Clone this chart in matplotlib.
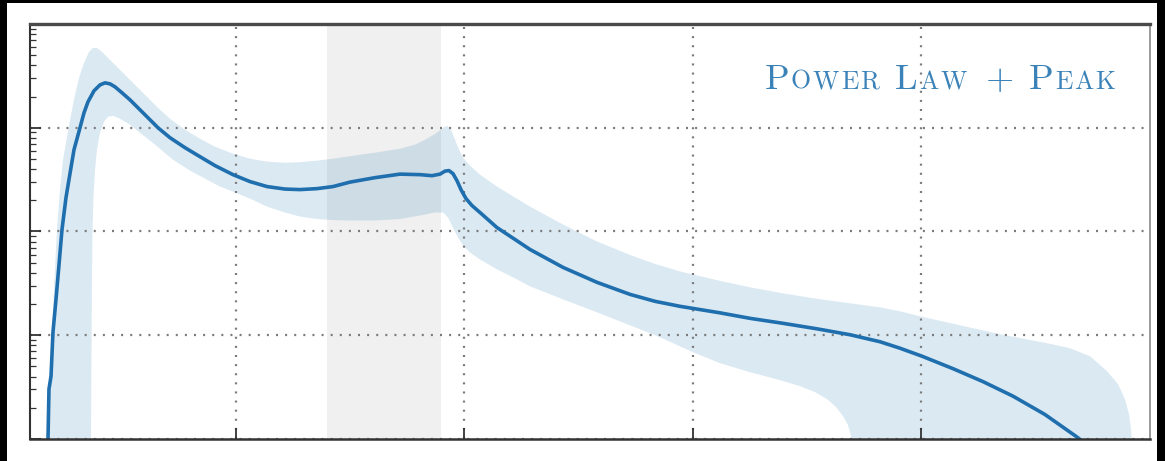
import numpy as np
import matplotlib
matplotlib.use("Agg")
import matplotlib.pyplot as plt
from matplotlib.patches import Rectangle
from matplotlib.offsetbox import TextArea, HPacker, DrawingArea, AnchoredOffsetbox

# ---- data -------------------------------------------------------------
# primary mass (solar masses) and log10 of the median differential rate
median_m = [3.49, 3.575, 3.66, 3.84, 4.01, 4.275, 4.54, 4.80, 5.15, 5.41, 5.85,
            6.375, 6.725, 7.075, 7.6, 8.125, 8.56, 9.0, 9.44, 10.05, 10.75,
            11.625, 12.5, 13.2, 14.25, 15.56, 16.875, 18.19, 19.76, 21.25,
            22.74, 24.31, 25.625, 27.11, 28.51, 30.0, 32.19, 34.375, 36.125,
            37.175, 37.875, 38.31, 38.66, 39.01, 39.36, 39.71, 40.15, 40.675,
            41.375, 42.86, 44.44, 45.75, 48.64, 51.61, 54.5, 56.69, 58.875,
            62.375, 65.0, 67.89, 70.86, 73.75, 76.375, 78.125, 80.05, 82.76,
            85.39, 88.01, 90.81, 93.61, 94.93]
median_logp = [-5.19, -5.0, -4.519, -4.394, -3.971, -3.654, -3.317, -2.981,
               -2.673, -2.50, -2.212, -2.0, -1.856, -1.75, -1.644, -1.587,
               -1.567, -1.577, -1.606, -1.663, -1.731, -1.827, -1.923, -2.0,
               -2.096, -2.192, -2.279, -2.365, -2.452, -2.519, -2.567, -2.591,
               -2.596, -2.587, -2.567, -2.524, -2.481, -2.447, -2.452, -2.462,
               -2.447, -2.418, -2.413, -2.442, -2.51, -2.596, -2.683, -2.75,
               -2.817, -2.962, -3.077, -3.173, -3.346, -3.49, -3.606, -3.673,
               -3.721, -3.784, -3.837, -3.885, -3.938, -3.995, -4.0625, -4.125,
               -4.202, -4.322, -4.447, -4.587, -4.764, -4.981, -5.096]

# upper edge of the 90% credible band
upper_m = [3.66, 3.71, 3.75, 3.84, 3.925, 4.1, 4.36, 4.625, 4.89, 5.24, 5.59,
           5.94, 6.29, 6.725, 7.16, 7.51, 7.86, 8.3, 9.0, 9.875, 10.925, 12.06,
           13.2, 14.25, 15.56, 16.875, 18.19, 19.76, 21.25, 22.74, 24.31,
           25.625, 27.11, 28.51, 30.0, 32.19, 34.375, 35.69, 36.74, 37.61,
           38.14, 38.49, 38.84, 39.19, 39.54, 39.89, 40.5, 41.375, 42.86, 44.44,
           45.75, 48.64, 51.61, 54.5, 56.69, 58.875, 62.375, 65.0, 67.89, 70.86,
           73.75, 76.375, 78.125, 80.05, 83.375, 86.875, 91.0, 93.0, 94.75,
           96.24, 97.2, 97.8, 98.16, 98.34, 98.425, 98.51]
upper_logp = [-5.19, -5.0, -4.615, -4.23, -3.971, -3.558, -2.981, -2.596,
              -2.308, -2.087, -1.875, -1.683, -1.519, -1.375, -1.269, -1.231,
              -1.231, -1.269, -1.346, -1.442, -1.558, -1.683, -1.808, -1.913,
              -2.019, -2.106, -2.183, -2.25, -2.298, -2.327, -2.337, -2.332,
              -2.317, -2.298, -2.274, -2.24, -2.202, -2.163, -2.106, -2.048,
              -2.0, -1.981, -2.019, -2.115, -2.212, -2.288, -2.365, -2.452,
              -2.567, -2.673, -2.76, -2.933, -3.096, -3.226, -3.3125, -3.385,
              -3.476, -3.538, -3.596, -3.649, -3.692, -3.731, -3.769, -3.822,
              -3.904, -3.99, -4.077, -4.125, -4.202, -4.346, -4.471, -4.615,
              -4.76, -4.904, -5.048, -5.288]

# lower edge of the 90% credible band
lower_m = [7.25, 7.34, 7.38, 7.425, 7.47, 7.56, 7.69, 7.86, 8.125, 8.475, 8.825,
           9.26, 9.875, 10.75, 11.625, 12.94, 14.51, 16.0, 17.31, 18.625, 19.76,
           21.25, 22.74, 24.31, 25.625, 27.11, 28.51, 30.0, 32.19, 34.375,
           36.125, 37.44, 38.14, 38.575, 39.01, 39.45, 39.89, 40.5, 41.375,
           42.86, 44.44, 45.75, 48.64, 51.61, 54.5, 57.125, 60.0, 62.375, 65.0,
           67.625, 69.375, 70.69, 71.74, 72.525, 73.14, 73.575, 73.84, 74.01]
lower_logp = [-5.29, -5.0, -4.135, -3.462, -2.981, -2.644, -2.404, -2.212,
              -2.048, -1.942, -1.894, -1.885, -1.913, -1.971, -2.048, -2.163,
              -2.308, -2.413, -2.49, -2.567, -2.615, -2.683, -2.76, -2.817,
              -2.856, -2.88, -2.89, -2.894, -2.894, -2.88, -2.846, -2.817,
              -2.817, -2.865, -2.962, -3.058, -3.135, -3.202, -3.269, -3.365,
              -3.452, -3.529, -3.654, -3.779, -3.904, -4.019, -4.163, -4.269,
              -4.356, -4.433, -4.49, -4.548, -4.615, -4.692, -4.779, -4.865,
              -4.971, -5.288]

# shaded mass interval
gap_lo, gap_hi = 28.0, 38.0

x_ticks = [20, 40, 60, 80]
x_limits = (2.0, 100.0)
y_limits = (1e-5, 1e-1)

title_words = ["Power", "Law", "+", "Peak"]

# ---- styling ----------------------------------------------------------
line_color = "#1f6fae"
band_color = "#1f77b4"
text_color = "#3a82b8"
W, H, DPI = 1165, 461, 100

fig = plt.figure(figsize=(W / DPI, H / DPI), dpi=DPI, facecolor="white")
ax = fig.add_axes([30 / W, 22 / H, 1120 / W, 415 / H])

band_m = upper_m + lower_m[::-1]
band_p = np.power(10.0, upper_logp + lower_logp[::-1])

ax.axvspan(gap_lo, gap_hi, color="#f0f0f0", lw=0, zorder=0.5)
ax.fill(band_m, band_p, facecolor=band_color, alpha=0.16, lw=0, zorder=1)
ax.plot(median_m, np.power(10.0, median_logp), color=line_color, lw=2.6,
        zorder=2, solid_capstyle="round", solid_joinstyle="round")

ax.set_yscale("log")
ax.set_xlim(*x_limits)
ax.set_ylim(*y_limits)
ax.set_xticks(x_ticks)

ax.grid(True, which="major", color="#7a7a7a", lw=1.6, ls=(0, (0.9, 3.2)))
ax.tick_params(which="both", direction="in", labelleft=False,
               labelbottom=False, top=False, right=False, color="#333333")
ax.tick_params(which="major", length=8, width=1.3)
ax.tick_params(which="minor", length=4, width=0.9)

for side, (c, w) in {"left": ("#333333", 1.5), "bottom": ("#333333", 1.8),
                     "top": ("#4a4a4a", 2.4), "right": ("#8a8a8a", 1.2)}.items():
    ax.spines[side].set_color(c)
    ax.spines[side].set_linewidth(w)

# small-caps label built from individual letters
big, small = 26, 18.5
letter_sep = 1.4
word_gaps = [11, 14, 10]
pieces = []
for i, word in enumerate(title_words):
    letters = [TextArea(word[0].upper(),
                        textprops=dict(family="cmr10", size=big, color=text_color))]
    for ch in word[1:]:
        letters.append(TextArea(ch.upper(),
                                textprops=dict(family="cmr10", size=small,
                                               color=text_color)))
    pieces.append(HPacker(children=letters, sep=letter_sep, align="baseline", pad=0))
    if i < len(word_gaps):
        pieces.append(DrawingArea(word_gaps[i], 1))
label = HPacker(children=pieces, sep=0, align="baseline", pad=0)
anchored = AnchoredOffsetbox(loc="upper right", child=label, pad=0, borderpad=0,
                             frameon=False, bbox_to_anchor=(0.969, 0.903),
                             bbox_transform=ax.transAxes)
ax.add_artist(anchored)

# dark frame around the figure edge
for x0, y0, w, h in [(0, 0, 7, H), (0, H - 3, W, 3), (1157, 0, W - 1157, H)]:
    fig.add_artist(Rectangle((x0 / W, y0 / H), w / W, h / H,
                             transform=fig.transFigure, color="black", lw=0))

fig.savefig("out.png", dpi=DPI, facecolor="white")
